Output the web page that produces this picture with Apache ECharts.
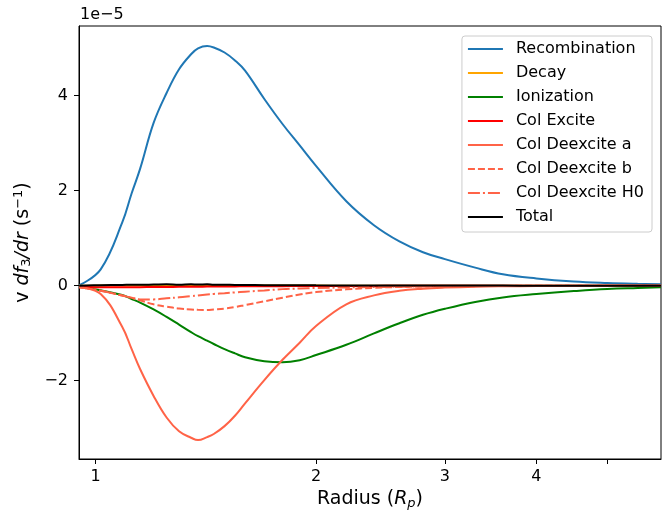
<!DOCTYPE html>
<html>
<head>
<meta charset="utf-8">
<script src="https://cdn.jsdelivr.net/npm/echarts@6/dist/echarts.min.js"></script>
<style>html,body{margin:0;padding:0;background:#fff}#c{width:668px;height:515px}</style>
</head>
<body>
<div id="c"></div>
<script>
// Radius in units of R_p
var radius = [0.95, 1.016, 1.087, 1.12, 1.15, 1.2, 1.25, 1.3, 1.35, 1.38, 1.42, 1.45, 1.5, 1.55, 1.6, 1.7, 1.8, 1.9, 2.0, 2.2, 2.4, 2.6, 2.8, 3.0, 3.3, 3.6, 4.0, 4.5, 5.0, 5.5, 5.92];
// Values in units of 1e-5 s^-1
var recombination = [0.01, 0.345, 1.326, 1.947, 2.459, 3.427, 4.057, 4.556, 4.872, 4.996, 5.046, 5.015, 4.909, 4.743, 4.528, 3.931, 3.404, 2.952, 2.522, 1.779, 1.274, 0.933, 0.705, 0.56, 0.38, 0.24, 0.152, 0.088, 0.057, 0.04, 0.032];
var decay = [0.0, 0.002, 0.003, 0.003, 0.003, 0.003, 0.003, 0.003, 0.003, 0.003, 0.003, 0.003, 0.003, 0.002, 0.002, 0.002, 0.002, 0.002, 0.002, 0.001, 0.001, 0.001, 0.001, 0.001, 0.001, 0.0, 0.0, 0.0, 0.0, 0.0, 0.0];
var ionization = [-0.02, -0.097, -0.196, -0.28, -0.356, -0.50, -0.657, -0.819, -0.977, -1.063, -1.158, -1.227, -1.335, -1.425, -1.505, -1.59, -1.613, -1.568, -1.46, -1.244, -1.004, -0.79, -0.613, -0.486, -0.341, -0.246, -0.177, -0.114, -0.069, -0.048, -0.034];
var colExcite = [-0.02, -0.03, -0.03, -0.03, -0.03, -0.028, -0.026, -0.024, -0.022, -0.02, -0.019, -0.018, -0.016, -0.015, -0.013, -0.011, -0.009, -0.008, -0.007, -0.005, -0.004, -0.003, -0.002, -0.002, -0.001, -0.001, -0.001, 0.0, 0.0, 0.0, 0.0];
var deexciteA = [-0.034, -0.175, -0.863, -1.337, -1.754, -2.32, -2.775, -3.065, -3.2, -3.25, -3.187, -3.122, -2.956, -2.737, -2.476, -1.987, -1.56, -1.2, -0.85, -0.392, -0.204, -0.107, -0.063, -0.04, -0.02, -0.012, -0.008, -0.005, -0.003, -0.002, -0.001];
var deexciteB = [-0.034, -0.107, -0.206, -0.255, -0.305, -0.392, -0.44, -0.482, -0.5, -0.507, -0.51, -0.5, -0.482, -0.45, -0.408, -0.328, -0.253, -0.185, -0.135, -0.076, -0.044, -0.027, -0.017, -0.011, -0.006, -0.004, -0.003, -0.002, -0.001, -0.001, -0.001];
var deexciteH0 = [-0.034, -0.107, -0.206, -0.255, -0.29, -0.288, -0.265, -0.244, -0.219, -0.204, -0.185, -0.173, -0.158, -0.141, -0.126, -0.099, -0.072, -0.059, -0.048, -0.036, -0.028, -0.022, -0.017, -0.013, -0.009, -0.007, -0.005, -0.003, -0.002, -0.002, -0.001];
var total = [0.0, 0.01, 0.015, 0.02, 0.02, 0.025, 0.03, 0.02, 0.03, 0.025, 0.03, 0.02, 0.02, 0.015, 0.015, 0.01, 0.01, 0.01, 0.008, 0.006, 0.005, 0.004, 0.003, 0.003, 0.002, 0.002, 0.001, 0.001, 0.001, 0.001, 0.0];

var xTickValues = [1, 2, 3, 4, 5];
var xLabelValues = [1, 2, 3, 4];
var yTickValues = [-2, 0, 2, 4];

var FONT = 'DejaVu Sans';
function pairs(v) { return radius.map(function (r, i) { return [r, v[i]]; }); }
function mk(name, vals, color, type) {
  return {
    name: name, type: 'line', data: pairs(vals), symbol: 'none', showSymbol: false,
    smooth: 0.4,
    lineStyle: { color: color, width: 2, type: type || 'solid' },
    itemStyle: { color: color }, animation: false, z: 2
  };
}
var series = [
  mk('Recombination', recombination, '#1f77b4'),
  mk('Decay', decay, '#ffa500'),
  mk('Ionization', ionization, '#008000'),
  mk('Col Excite', colExcite, '#ff0000'),
  mk('Col Deexcite a', deexciteA, '#ff6347'),
  mk('Col Deexcite b', deexciteB, '#ff6347', [7, 3]),
  mk('Col Deexcite H0', deexciteH0, '#ff6347', [12, 3, 2, 3]),
  mk('Total', total, '#000000')
];

var chart = echarts.init(document.getElementById('c'), null, { renderer: 'canvas' });
chart.setOption({
  animation: false,
  backgroundColor: '#fff',
  textStyle: { fontFamily: FONT },
  grid: { left: 79, top: 26, right: 7, bottom: 56, show: true, borderColor: '#000', borderWidth: 1, backgroundColor: 'transparent', containLabel: false },
  legend: {
    orient: 'vertical', right: 16, top: 36,
    padding: [5, 8, 7, 5],
    itemWidth: 35, itemHeight: 16, itemGap: 8,
    backgroundColor: 'rgba(255,255,255,0.8)', borderColor: '#cccccc', borderWidth: 1, borderRadius: 3,
    textStyle: { fontFamily: FONT, fontSize: 16, color: '#000', lineHeight: 16, padding: [0, 0, 0, 8] },
    itemStyle: { color: 'rgba(0,0,0,0)', borderWidth: 0, opacity: 0 },
    data: series.map(function (s) { return s.name; })
  },
  xAxis: {
    type: 'log', logBase: 10, min: 0.949, max: 5.92,
    name: '{n|Radius (}{i|R}{s|p}{n|)}', nameLocation: 'middle', nameGap: 28,
    nameTextStyle: { rich: {
      n: { fontFamily: FONT, fontSize: 19, color: '#000' },
      i: { fontFamily: FONT, fontSize: 19, fontStyle: 'italic', color: '#000' },
      s: { fontFamily: FONT, fontSize: 13, fontStyle: 'italic', color: '#000', padding: [8, 0, 0, 0] }
    } },
    axisLine: { show: true, onZero: false, lineStyle: { color: '#000', width: 1 } },
    axisTick: { show: true, length: 5, lineStyle: { color: '#000' }, customValues: xTickValues },
    axisLabel: { customValues: xLabelValues, fontFamily: FONT, fontSize: 16, color: '#000', margin: 10, formatter: function (v) { return String(Math.round(v)); } },
    splitLine: { show: false }, minorTick: { show: false }, minorSplitLine: { show: false }
  },
  yAxis: {
    type: 'value', min: -3.648, max: 5.467,
    name: '{n|v }{i|df}{s|3}{i|/dr}{n| (s}{p|−1}{n|)}', nameLocation: 'middle', nameRotate: 90, nameGap: 40,
    nameTextStyle: { rich: {
      n: { fontFamily: FONT, fontSize: 19, color: '#000' },
      i: { fontFamily: FONT, fontSize: 19, fontStyle: 'italic', color: '#000' },
      s: { fontFamily: FONT, fontSize: 13, color: '#000', padding: [8, 0, 0, 0] },
      p: { fontFamily: FONT, fontSize: 13, color: '#000', padding: [0, 0, 8, 0] }
    } },
    axisLine: { show: true, onZero: false, lineStyle: { color: '#000', width: 1 } },
    axisTick: { show: true, length: 5, lineStyle: { color: '#000' }, customValues: yTickValues },
    axisLabel: { customValues: yTickValues, fontFamily: FONT, fontSize: 16, color: '#000', margin: 11, formatter: function (v) { return String(Math.round(v)).replace('-', '\u2212'); } },
    splitLine: { show: false }
  },
  graphic: [{ type: 'text', left: 80, top: 7, style: { text: '1e\u22125', fontFamily: FONT, fontSize: 16, fill: '#000' } }],
  series: series
});
</script>
</body>
</html>
